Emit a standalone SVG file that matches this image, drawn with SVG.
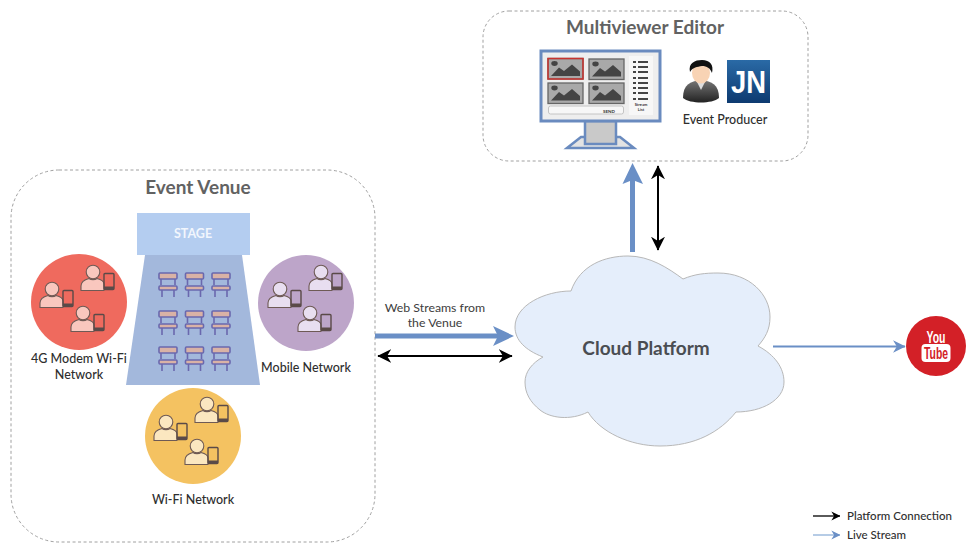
<svg xmlns="http://www.w3.org/2000/svg" xmlns:xlink="http://www.w3.org/1999/xlink" width="968" height="543" viewBox="0 0 968 543">
<style>
text{font-family:Lato,"Open Sans","Liberation Sans",sans-serif;text-anchor:middle;fill:#333}
.box{fill:#fff;stroke:#a0a0a0;stroke-width:1;stroke-dasharray:3 2.5}
.title{font-size:19px;font-weight:700;fill:#626262}
.lab{font-size:12.5px;font-weight:500;fill:#2e2e2e}
.chair rect,.chair path{stroke:#6a68ae;stroke-width:1.6}
.ps{stroke:#6e5a55;stroke-width:1.1}
.red{fill:#f9c7be}.pur{fill:#e8def0}.yel{fill:#fbe7c0}
.thumb{fill:#a9a9a9;stroke:#666;stroke-width:1.3}
.blue{stroke:#6a8fc6;fill:none}
.blk{stroke:#000;fill:none}
</style>
<defs>
<g id="chair" class="chair">
<path d="M-7 6V12M7 6V12M-6 17V24M6 17V24" fill="none"/>
<rect x="-9" y="0" width="18" height="6" rx="1" fill="#d9b2a6"/>
<rect x="-9" y="13" width="18" height="4" rx="1" fill="#d9b2a6"/>
</g>
<g id="person">
<circle class="ps" cx="0" cy="0" r="6.8"/>
<path class="ps" d="M-12 18.500V14C-12 9-8 7.500-4 6.500C-2 8 2 8 4 6.500C8 7.500 11 9 11 12V18.500Z"/>
<rect x="11" y="1.500" width="10" height="16" rx="1" fill="none" stroke="#5a4a48" stroke-width="1.400"/>
<rect x="11" y="14.500" width="10" height="3" fill="#5a4a48"/>
</g>
<g id="thumb">
<rect class="thumb" x="0" y="0" width="35" height="20.500"/>
<ellipse cx="6.500" cy="5" rx="3.200" ry="2.400" fill="#444"/>
<path d="M3 17.500L11 9L16 12.500L24 6L32 13V17.500Z" fill="#444"/>
</g>
<marker id="hb" viewBox="0 0 10 10" refX="9.500" refY="5" markerWidth="7" markerHeight="7" orient="auto-start-reverse"><path d="M0 0L10 5L0 10L3 5Z" fill="#000"/></marker>
<marker id="hblue" viewBox="0 0 10 10" refX="9.500" refY="5" markerWidth="7" markerHeight="7" orient="auto"><path d="M0 0L10 5L0 10L3 5Z" fill="#6a8fc6"/></marker>
<linearGradient id="jn" x1="0" y1="0" x2="0" y2="1"><stop offset="0" stop-color="#2a6aa6"/><stop offset="1" stop-color="#0d3a70"/></linearGradient>
<linearGradient id="suit" x1="0" y1="0" x2="0" y2="1"><stop offset="0" stop-color="#777"/><stop offset="1" stop-color="#222"/></linearGradient>
</defs>

<rect width="968" height="543" fill="#fff"/>

<g id="event-venue">
<rect class="box" x="11" y="170" width="364" height="372" rx="48"/>
<text class="title" x="198" y="194">Event Venue</text>
</g>

<g id="audience">
<path d="M145 255H242L260 385H126Z" fill="#a3b8dc"/>
<use xlink:href="#chair" href="#chair" x="168" y="273"/><use xlink:href="#chair" href="#chair" x="194.500" y="273"/><use xlink:href="#chair" href="#chair" x="221" y="273"/>
<use xlink:href="#chair" href="#chair" x="168" y="311"/><use xlink:href="#chair" href="#chair" x="194.500" y="311"/><use xlink:href="#chair" href="#chair" x="221" y="311"/>
<use xlink:href="#chair" href="#chair" x="168" y="347"/><use xlink:href="#chair" href="#chair" x="194.500" y="347"/><use xlink:href="#chair" href="#chair" x="221" y="347"/>
</g>

<g id="stage">
<rect x="137" y="213" width="113" height="42" fill="#b4cdf0"/>
<text x="193" y="238" font-size="12.500" font-weight="700" style="fill:#f2f6fd">STAGE</text>
</g>

<g id="modem-network">
<circle cx="79" cy="302" r="48" fill="#ef6a5e"/>
<use xlink:href="#person" href="#person" class="red" x="93" y="272"/>
<use xlink:href="#person" href="#person" class="red" x="52" y="289"/>
<use xlink:href="#person" href="#person" class="red" x="83" y="313"/>
<text class="lab" x="79" y="363">4G Modem Wi-Fi</text>
<text class="lab" x="79" y="379">Network</text>
</g>

<g id="mobile-network">
<circle cx="306" cy="303" r="48" fill="#bda5c9"/>
<use xlink:href="#person" href="#person" class="pur" x="321" y="272"/>
<use xlink:href="#person" href="#person" class="pur" x="280" y="289"/>
<use xlink:href="#person" href="#person" class="pur" x="310" y="313"/>
<text class="lab" x="306" y="372">Mobile Network</text>
</g>

<g id="wifi-network">
<circle cx="193" cy="436" r="48" fill="#f4c261"/>
<use xlink:href="#person" href="#person" class="yel" x="207" y="404"/>
<use xlink:href="#person" href="#person" class="yel" x="166" y="422"/>
<use xlink:href="#person" href="#person" class="yel" x="197" y="446"/>
<text class="lab" x="193" y="504">Wi-Fi Network</text>
</g>

<g id="multiviewer-editor">
<rect class="box" x="483" y="11" width="325" height="150" rx="26"/>
<text class="title" x="645" y="34">Multiviewer Editor</text>
<path d="M581 137H620L634 148H567Z" fill="#e3e3e3" stroke="#6a8bbf" stroke-width="2.500"/>
<rect x="585" y="121" width="31" height="23" fill="#c9c9c9" stroke="#6a8bbf" stroke-width="2.500"/>
<rect x="541" y="51" width="119" height="70" fill="#eeeeee" stroke="#6a8bbf" stroke-width="3"/>
<use xlink:href="#thumb" href="#thumb" x="548" y="58.500"/>
<rect x="548" y="58.500" width="35" height="20.500" fill="none" stroke="#c8332f" stroke-width="1.500"/>
<use xlink:href="#thumb" href="#thumb" x="589" y="59"/>
<use xlink:href="#thumb" href="#thumb" x="548" y="83"/>
<use xlink:href="#thumb" href="#thumb" x="589" y="83"/>
<rect x="548.500" y="106" width="75" height="8" rx="2" fill="#f7f7f7" stroke="#c4c4c4"/>
<text x="609" y="112.500" font-size="4.500" font-weight="700">SEND</text>
<rect x="629" y="56" width="24" height="59" fill="#f7f7f7"/>
<path d="M633 62h3M638 62h10M633 67h3M638 67h10M633 72h3M638 72h10M633 78h3M638 78h10M633 83h3M638 83h10M633 88h3M638 88h10M633 93h3M638 93h10M633 99h3M638 99h10" stroke="#444" stroke-width="2" fill="none"/>
<text x="641" y="106" font-size="4" font-weight="700">Stream</text>
<text x="641" y="111" font-size="4" font-weight="700">List</text>
</g>

<g id="event-producer">
<path d="M683 98C683 85 690 81 701 80C712 81 719 85 719 98C712 104 690 104 683 98Z" fill="url(#suit)"/>
<path d="M696 80L701 90L706 80Z" fill="#ddd"/>
<ellipse cx="701" cy="73" rx="9" ry="10.500" fill="#f8d3b4"/>
<path d="M690 72C688 63 695 60 702 60C710 60 714 65 712 73C710 68 707 66 702 66C697 67 693 67 690 72Z" fill="#111"/>
<rect x="727" y="60" width="43" height="43" fill="url(#jn)"/>
<text x="748.500" y="93" font-size="31" font-weight="700" textLength="35" lengthAdjust="spacingAndGlyphs" style="font-family:'Liberation Sans',sans-serif;fill:#fff">JN</text>
<text class="lab" x="725" y="124">Event Producer</text>
</g>

<g id="cloud-platform">
<path d="M571 291C580 265 605 256 628 256C650 256 668 268 683 279C695 274 705 273 718 273C750 273 770 295 770 317C770 330 765 338 758 346C775 355 784 368 784 382C784 400 762 412 736 412C720 432 695 446 660 446C630 446 600 432 588 412C570 421 550 418 540 410C530 402 525 393 525 382C525 372 532 363 543 357C525 350 515 340 515 327C515 305 545 291 571 291Z" fill="#e5eefb" stroke="#b8b8b8" stroke-width="1"/>
<text x="646" y="355" font-size="19" font-weight="700" style="fill:#4a4d52">Cloud Platform</text>
</g>

<g id="youtube">
<circle cx="936" cy="346" r="30" fill="#d32027"/>
<text x="936" y="343" font-size="16" font-weight="700" textLength="19" lengthAdjust="spacingAndGlyphs" style="font-family:'Liberation Sans',sans-serif;fill:#fff">You</text>
<rect x="921.500" y="344" width="29" height="18" rx="4" fill="#fff"/>
<text x="936" y="359" font-size="16" font-weight="700" textLength="24" lengthAdjust="spacingAndGlyphs" style="font-family:'Liberation Sans',sans-serif;fill:#d32027">Tube</text>
</g>

<g id="connectors">
<path d="M375 336H503" stroke="#6a8fc6" stroke-width="5" fill="none"/>
<path d="M493 326L514 336L493 346L498 336Z" fill="#6a8fc6"/>
<path class="blk" stroke-width="2" d="M378 356H512" marker-start="url(#hb)" marker-end="url(#hb)"/>
<path d="M632.500 252V175" stroke="#6a8fc6" stroke-width="5" fill="none"/>
<path d="M632.500 163L643 184L632.500 180L622.500 184Z" fill="#6a8fc6"/>
<path class="blk" stroke-width="2" d="M658 166V250" marker-start="url(#hb)" marker-end="url(#hb)"/>
<path class="blue" stroke-width="1.800" d="M773 346.500H905" marker-end="url(#hblue)"/>
</g>

<g id="legend">
<path class="blk" stroke-width="1.300" d="M813 516H840" marker-end="url(#hb)"/>
<path class="blue" stroke-width="1.300" style="stroke:#8fb0d8" d="M813 535H840" marker-end="url(#hblue)"/>
<text x="847" y="520" font-size="11.500" font-weight="500" style="text-anchor:start;fill:#2e2e2e">Platform Connection</text>
<text x="847" y="539" font-size="11.500" font-weight="500" style="text-anchor:start;fill:#2e2e2e">Live Stream</text>
</g>

<g id="web-streams-label">
<text x="435" y="312" font-size="12.300" style="fill:#3d3d3d">Web Streams from</text>
<text x="435" y="327" font-size="12.300" style="fill:#3d3d3d">the Venue</text>
</g>
</svg>
